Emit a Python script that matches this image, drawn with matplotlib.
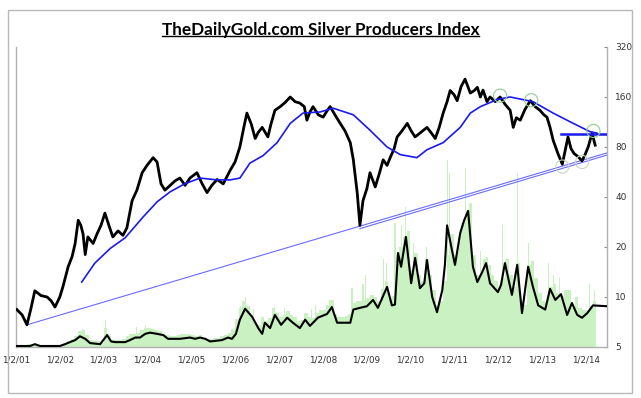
import numpy as np
import matplotlib.pyplot as plt
from matplotlib.patches import Rectangle
from matplotlib.lines import Line2D

# price (decimal year, index value)
price_t = [2001.02, 2001.14, 2001.25, 2001.34, 2001.43, 2001.57, 2001.71, 2001.80, 2001.89, 2002.00,
           2002.07, 2002.19, 2002.28, 2002.35, 2002.42, 2002.48, 2002.53, 2002.58, 2002.64, 2002.76,
           2002.85, 2002.94, 2003.03, 2003.12, 2003.21, 2003.33, 2003.44, 2003.53, 2003.65, 2003.76,
           2003.88, 2003.99, 2004.13, 2004.22, 2004.31, 2004.40, 2004.52, 2004.63, 2004.74, 2004.86,
           2004.97, 2005.13, 2005.25, 2005.36, 2005.47, 2005.59, 2005.73, 2005.89, 2006.00, 2006.11,
           2006.20, 2006.27, 2006.37, 2006.46, 2006.53, 2006.62, 2006.75, 2006.82, 2006.91, 2007.03,
           2007.14, 2007.26, 2007.37, 2007.48, 2007.58, 2007.64, 2007.71, 2007.78, 2007.90, 2008.01,
           2008.10, 2008.17, 2008.28, 2008.40, 2008.51, 2008.63, 2008.70, 2008.79, 2008.85, 2008.92,
           2009.01, 2009.08, 2009.20, 2009.29, 2009.38, 2009.47, 2009.54, 2009.63, 2009.70, 2009.81,
           2009.93, 2010.02, 2010.11, 2010.22, 2010.38, 2010.47, 2010.57, 2010.66, 2010.75, 2010.84,
           2010.91, 2011.00, 2011.07, 2011.16, 2011.25, 2011.37, 2011.46, 2011.53, 2011.60, 2011.66,
           2011.75, 2011.82, 2011.94, 2012.05, 2012.16, 2012.28, 2012.35, 2012.42, 2012.51, 2012.62,
           2012.74, 2012.85, 2012.96, 2013.05, 2013.12, 2013.19, 2013.26, 2013.37, 2013.47, 2013.53,
           2013.60, 2013.67, 2013.74, 2013.83, 2013.92, 2013.99, 2014.06, 2014.15, 2014.22]
price_v = [8.4, 7.8, 6.8, 8.5, 10.9, 10.2, 10.0, 9.5, 8.7, 10.0,
           11.5, 15.2, 17.5, 21, 29, 27, 24, 18, 23, 21,
           24, 27, 32, 27, 23, 25, 23.5, 26, 38, 44,
           56, 62, 69, 65, 48, 44, 47, 50, 52, 47,
           52, 56, 48, 42.5, 47, 51, 48, 58, 65, 80,
           105, 128, 110, 90, 98, 105, 92, 110, 133, 140,
           148, 160, 150, 147, 140, 116, 130, 140, 125, 121,
           132, 140, 125, 111, 100, 85, 67, 42, 27, 38,
           45, 56, 46, 55, 67, 62, 69, 78, 92, 100,
           111, 100, 92, 97, 105, 98, 90, 105, 128, 150,
           175, 165, 152, 185, 205, 169, 175, 183, 160, 176,
           150, 160, 150, 160, 145, 133, 105, 120, 116, 135,
           152, 140, 133, 125, 121, 105, 88, 73, 63, 75,
           92, 78, 73, 70, 66, 72, 80, 97, 82]

# moving average
ma_t = [2002.50, 2002.80, 2003.15, 2003.49, 2003.90, 2004.22, 2004.52, 2004.85, 2005.20, 2005.59,
        2005.89, 2006.11, 2006.34, 2006.64, 2006.96, 2007.26, 2007.55, 2007.94, 2008.24, 2008.70,
        2009.08, 2009.47, 2009.77, 2010.15, 2010.38, 2010.75, 2011.14, 2011.37, 2011.60, 2012.00,
        2012.28, 2012.80, 2013.26, 2013.72, 2014.10, 2014.26]
ma_v = [12.3, 16.0, 19.6, 22.7, 30.3, 37.4, 43, 48, 52, 50.7,
        50.7, 52, 64, 71, 85, 111, 128, 130, 137, 125,
        101, 80, 72, 69, 77, 85, 105, 128, 140, 155,
        160, 150, 128, 111, 99, 97]

# volume moving-average line
vol_t = [2001.00, 2001.32, 2001.43, 2001.55, 2002.00, 2002.12, 2002.23, 2002.35, 2002.46, 2002.58,
         2002.69, 2002.92, 2003.08, 2003.17, 2003.26, 2003.49, 2003.60, 2003.72, 2003.83, 2003.95,
         2004.06, 2004.22, 2004.36, 2004.47, 2004.74, 2004.97, 2005.09, 2005.20, 2005.32, 2005.43,
         2005.70, 2005.84, 2005.93, 2006.02, 2006.11, 2006.23, 2006.39, 2006.53, 2006.62, 2006.68,
         2006.80, 2006.91, 2007.05, 2007.19, 2007.32, 2007.48, 2007.60, 2007.71, 2007.89, 2007.94,
         2008.10, 2008.21, 2008.33, 2008.63, 2008.70, 2008.85, 2009.01, 2009.15, 2009.26, 2009.47,
         2009.58, 2009.65, 2009.72, 2009.79, 2009.90, 2010.02, 2010.11, 2010.22, 2010.32, 2010.38,
         2010.50, 2010.61, 2010.73, 2010.79, 2010.84, 2010.95, 2011.02, 2011.14, 2011.23, 2011.32,
         2011.43, 2011.53, 2011.64, 2011.73, 2011.82, 2012.00, 2012.07, 2012.16, 2012.32, 2012.44,
         2012.55, 2012.69, 2012.80, 2012.92, 2013.08, 2013.19, 2013.31, 2013.44, 2013.58, 2013.69,
         2013.81, 2013.92, 2014.04, 2014.17, 2014.49]
vol_v = [5.07, 5.07, 5.2, 5.07, 5.07, 5.2, 5.35, 5.5, 5.8, 5.6,
         5.28, 5.2, 5.9, 5.4, 5.35, 5.35, 5.5, 5.7, 5.7, 6.0,
         6.1, 6.0, 5.9, 5.6, 5.6, 5.7, 5.6, 5.7, 5.6, 5.4,
         5.5, 5.7, 5.6, 6.0, 7.3, 8.5, 7.6, 6.5, 6.0, 7.0,
         6.5, 7.8, 6.8, 7.5, 7.0, 6.5, 7.3, 6.7, 7.5, 7.6,
         7.9, 8.7, 7.0, 7.0, 8.4, 8.6, 8.8, 9.6, 8.6, 11.5,
         8.9, 9.0, 18.4, 15.2, 23, 12.1, 17.2, 11.3, 12.1, 16.7,
         10.0, 8.1, 11.0, 15.6, 27, 19.2, 15.6, 24.3, 29, 33,
         15.2, 12.3, 14.1, 16.0, 12.1, 10.7, 11.8, 16.0, 10.3, 15.6,
         8.0, 15.2, 11.5, 8.9, 8.4, 11.2, 9.6, 10.4, 7.8, 9.2,
         7.8, 7.5, 8.0, 8.9, 8.8]

# monthly volume bars, one list per year
vol_years = [2001, 2002, 2003, 2004, 2005, 2006, 2007, 2008, 2009, 2010, 2011, 2012, 2013, 2014]
vol_2001 = [5.05, 5.05, 5.1, 5.2, 5.05, 5.05, 5.05, 5.05, 5.05, 5.05, 5.05, 5.08]
vol_2002 = [5.15, 5.25, 5.4, 5.6, 5.8, 6.2, 6.3, 5.9, 5.5, 5.4, 5.4, 5.3]
vol_2003 = [6.5, 5.8, 5.5, 5.5, 5.5, 5.6, 5.8, 6.0, 6.0, 6.1, 6.3, 6.5]
vol_2004 = [6.5, 6.4, 6.3, 6.2, 6.0, 5.9, 5.8, 5.8, 5.9, 6.0, 6.0, 6.0]
vol_2005 = [5.9, 5.8, 5.9, 5.7, 5.6, 5.6, 5.7, 5.7, 5.8, 5.9, 6.1, 6.4]
vol_2006 = [7.4, 8.6, 9.4, 8.8, 7.8, 7.0, 6.8, 7.6, 7.2, 7.5, 8.6, 8.0]
vol_2007 = [7.6, 7.8, 8.2, 7.8, 7.6, 7.2, 7.3, 8.0, 7.6, 7.5, 8.0, 8.3]
vol_2008 = [8.3, 8.9, 9.6, 7.9, 7.6, 7.6, 7.7, 7.9, 9.2, 9.5, 9.5, 9.6]
vol_2009 = [9.8, 10.3, 10.0, 9.5, 11.2, 12.5, 10.0, 10.2, 18.0, 20.0, 23.0, 25.0]
vol_2010 = [14.5, 18.5, 13.5, 12.5, 17.0, 13.5, 11.0, 9.0, 9.5, 12.5, 18.0, 24.0]
vol_2011 = [18.0, 23.0, 28.0, 33.0, 37.0, 18.0, 13.5, 14.5, 17.0, 15.5, 13.5, 12.5]
vol_2012 = [11.5, 13.0, 17.0, 13.5, 11.5, 16.0, 9.5, 9.0, 15.5, 16.5, 13.0, 10.5]
vol_2013 = [9.5, 9.2, 11.5, 12.0, 10.5, 10.2, 11.0, 11.0, 8.6, 10.0, 8.6, 8.4]
vol_2014 = [8.4, 8.8, 9.4]
vol_by_year = [vol_2001, vol_2002, vol_2003, vol_2004, vol_2005, vol_2006, vol_2007,
               vol_2008, vol_2009, vol_2010, vol_2011, vol_2012, vol_2013, vol_2014]

# single high-volume days
spike_t = [2002.52, 2003.05, 2003.75, 2003.95, 2006.12, 2006.23, 2006.42, 2006.91, 2007.12, 2007.75,
           2007.83, 2008.15, 2008.67, 2008.92, 2008.98, 2009.38, 2009.45, 2009.65, 2009.80, 2009.90,
           2010.08, 2010.36, 2010.84, 2010.90, 2011.25, 2011.60, 2011.75, 2012.10, 2012.44, 2012.69,
           2013.15, 2013.27, 2013.40, 2013.58, 2014.10, 2014.20]
spike_v = [6.4, 7.3, 6.6, 6.8, 8.8, 10.0, 8.5, 8.7, 8.6, 8.5,
           9.0, 9.6, 11.3, 12.0, 13.6, 17, 16.0, 28, 27, 35,
           21, 20, 67, 56, 60, 19, 17.5, 27, 56, 21,
           16, 13.5, 13, 11, 12, 11]

# annotations
trend1_t = [2001.25, 2014.49]
trend1_v = [6.8, 73.7]
trend2_t = [2008.85, 2014.49]
trend2_v = [25.8, 71.5]
resist_t = [2013.45, 2014.49]
resist_v = [96, 96]
top_circle_t = [2012.05, 2012.76, 2014.18]
top_circle_v = [163, 153, 100]
low_circle_t = [2013.47, 2013.92]
low_circle_v = [61, 65]

year_ticks = list(range(2001, 2015))
year_labels = ["1/2/%02d" % (y - 2000) for y in year_ticks]
y_ticks = [5, 10, 20, 40, 80, 160, 320]

W, H = 641, 398
fig = plt.figure(figsize=(W / 100, H / 100), dpi=100)
fig.patches.append(Rectangle((8 / W, 5 / H), 624 / W, 383 / H, transform=fig.transFigure,
                             fill=False, edgecolor="#b8b8b8", linewidth=1))

ax = fig.add_axes([16 / W, 51 / H, 591 / W, 300 / H])
ax.set_yscale("log", base=2)
ax.set_ylim(5, 320)
ax.set_xlim(2001.0, 2014.49)

# volume
for yr, vals in zip(vol_years, vol_by_year):
    xs = [yr + (m + 0.5) / 12 for m in range(len(vals))]
    ax.bar(xs, [v - 5 for v in vals], bottom=5, width=1 / 12, color="#c9f1c1",
           edgecolor="none", zorder=1)
ax.bar(spike_t, [v - 5 for v in spike_v], bottom=5, width=0.025, color="#c9f1c1",
       edgecolor="none", zorder=1)
ax.plot(vol_t, vol_v, color="black", lw=1.5, zorder=3)

# trend lines
ax.plot(trend1_t, trend1_v, color="#6a6aff", lw=0.8, zorder=2)
ax.plot(trend2_t, trend2_v, color="#6a6aff", lw=0.8, zorder=2)

# price and average
ax.plot(price_t, price_v, color="black", lw=2.0, zorder=4)
ax.plot(ma_t, ma_v, color="#1a1aee", lw=1.2, zorder=5)
ax.plot(resist_t, resist_v, color="#1a1aee", lw=1.8, zorder=5)

ax.scatter(top_circle_t, top_circle_v, s=90, facecolors="none", edgecolors="#8fcf8f",
           linewidths=0.8, zorder=6)
ax.scatter(low_circle_t, low_circle_v, s=90, facecolors="none", edgecolors="#c8d8c0",
           linewidths=0.8, zorder=6)

# axes styling
ax.spines["top"].set_visible(False)
for side in ["left", "bottom", "right"]:
    ax.spines[side].set_color("#b0b0b0")
    ax.spines[side].set_linewidth(1)
ax.yaxis.tick_right()
ax.set_yticks(y_ticks)
ax.set_yticklabels([str(v) for v in y_ticks])
ax.yaxis.set_minor_locator(plt.NullLocator())
ax.tick_params(axis="y", which="major", direction="in", length=2, color="#909090",
               labelsize=6.5, labelcolor="#333333", pad=6)
ax.set_xticks(year_ticks)
ax.set_xticklabels(year_labels)
ax.tick_params(axis="x", length=0, labelsize=6.3, labelcolor="#333333", pad=6)

title = fig.text(0.5, 1 - 30 / H, "TheDailyGold.com Silver Producers Index", ha="center",
                 va="center", fontsize=12.3, fontweight="bold", family="Lato", color="black")
fig.canvas.draw()
bb = title.get_window_extent().transformed(fig.transFigure.inverted())
fig.lines.append(Line2D([bb.x0, bb.x1], [bb.y0 + 0.004, bb.y0 + 0.004],
                        transform=fig.transFigure, color="black", lw=1))

fig.savefig("out.png", dpi=100)
